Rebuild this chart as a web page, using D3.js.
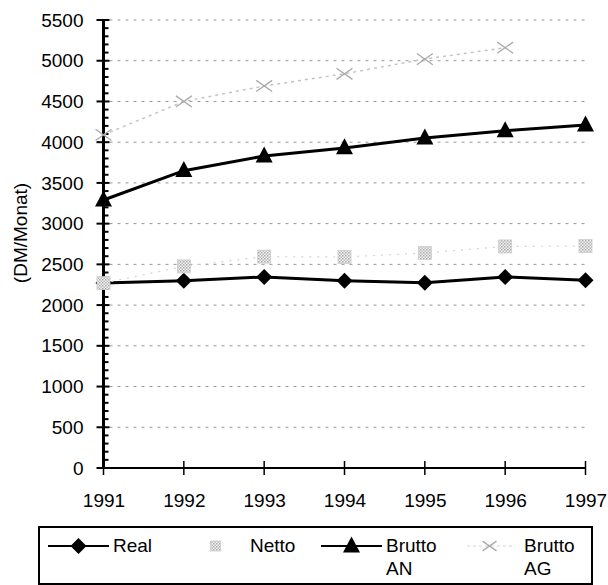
<!DOCTYPE html>
<html>
<head>
<meta charset="utf-8">
<script src="https://cdn.jsdelivr.net/npm/d3@7/dist/d3.min.js"></script>
<style>
  html, body { margin: 0; padding: 0; background: #fff; }
  svg { display: block; font-family: "Liberation Sans", Arial, Helvetica, sans-serif; }
</style>
</head>
<body>
<svg id="chart" width="608" height="585"></svg>
<script>
// Monthly earnings per employee, 1991–1997 (DM/Monat)
const years = ["1991", "1992", "1993", "1994", "1995", "1996", "1997"];
const real = [2270, 2300, 2345, 2300, 2275, 2345, 2305];
const netto = [2270, 2475, 2595, 2590, 2640, 2720, 2725];
const bruttoAN = [3290, 3650, 3830, 3930, 4050, 4140, 4210];
const bruttoAG = [4090, 4500, 4690, 4840, 5020, 5160, null];
const yTicks = [0, 500, 1000, 1500, 2000, 2500, 3000, 3500, 4000, 4500, 5000, 5500];
const yTitle = "(DM/Monat)";
const legendLabels = [["Real"], ["Netto"], ["Brutto", "AN"], ["Brutto", "AG"]];

const svg = d3.select("#chart");
const plotL = 103.5, plotR = 585.5, plotT = 20, plotB = 468;

const x = d3.scalePoint().domain(years).range([plotL, plotR]);
const y = d3.scaleLinear().domain([0, 5500]).range([plotB, plotT]);

// dithered fill used for the Netto markers
const defs = svg.append("defs");
const pat = defs.append("pattern").attr("id", "hatch")
  .attr("width", 3).attr("height", 3).attr("patternUnits", "userSpaceOnUse");
pat.append("rect").attr("width", 3).attr("height", 3).attr("fill", "#f2f2f2");
pat.append("rect").attr("width", 1.5).attr("height", 1.5).attr("fill", "#aaa");
pat.append("rect").attr("x", 1.5).attr("y", 1.5).attr("width", 1.5).attr("height", 1.5).attr("fill", "#bbb");

// horizontal dashed gridlines
svg.append("g").selectAll("line")
  .data(yTicks.filter(d => d > 0))
  .join("line")
  .attr("x1", plotL + 6).attr("x2", plotR)
  .attr("y1", d => y(d)).attr("y2", d => y(d))
  .attr("stroke", "#999").attr("stroke-width", 1)
  .attr("stroke-dasharray", "3,5");

// y axis with major and minor ticks
const yAxis = svg.append("g").attr("transform", `translate(${plotL},0)`)
  .call(d3.axisLeft(y).tickValues(yTicks).tickSize(0).tickPadding(20).tickFormat(d3.format("d")));
yAxis.select(".domain").remove();
yAxis.selectAll("text").attr("font-size", 19).attr("fill", "#000")
  .attr("font-family", "'Liberation Sans', Arial, sans-serif");

svg.append("g").selectAll("line")
  .data(d3.range(0, 5501, 100).filter(d => d % 500 !== 0))
  .join("line")
  .attr("x1", plotL).attr("x2", plotL + 5)
  .attr("y1", d => y(d)).attr("y2", d => y(d))
  .attr("stroke", "#000").attr("stroke-width", 2);
svg.append("g").selectAll("line")
  .data(yTicks)
  .join("line")
  .attr("x1", plotL - 7).attr("x2", plotL + 6)
  .attr("y1", d => y(d)).attr("y2", d => y(d))
  .attr("stroke", "#000").attr("stroke-width", 2);
svg.append("line")
  .attr("x1", plotL).attr("x2", plotL)
  .attr("y1", y(5500)).attr("y2", y(0))
  .attr("stroke", "#000").attr("stroke-width", 3);

// x axis
const xAxis = svg.append("g").attr("transform", `translate(0,${plotB})`)
  .call(d3.axisBottom(x).tickSize(0).tickPadding(26));
xAxis.select(".domain").remove();
xAxis.selectAll("text").attr("font-size", 19).attr("fill", "#000")
  .attr("font-family", "'Liberation Sans', Arial, sans-serif");
svg.append("g").selectAll("line")
  .data(years)
  .join("line")
  .attr("x1", d => x(d)).attr("x2", d => x(d))
  .attr("y1", plotB - 7).attr("y2", plotB + 7)
  .attr("stroke", "#000").attr("stroke-width", 1.5);
svg.append("line")
  .attr("x1", plotL).attr("x2", plotR)
  .attr("y1", plotB).attr("y2", plotB)
  .attr("stroke", "#000").attr("stroke-width", 2);

// y axis title
svg.append("text")
  .attr("transform", `translate(27,233) rotate(-90)`)
  .attr("text-anchor", "middle")
  .attr("font-size", 19)
  .text(yTitle);

// marker shapes
const diamond = (g, cx, cy, s) => g.append("path")
  .attr("d", `M${cx},${cy - s}L${cx + s},${cy}L${cx},${cy + s}L${cx - s},${cy}Z`)
  .attr("fill", "#000");
const triangle = (g, cx, cy, w, h) => g.append("path")
  .attr("d", `M${cx},${cy - h * 0.6}L${cx + w / 2},${cy + h * 0.4}L${cx - w / 2},${cy + h * 0.4}Z`)
  .attr("fill", "#000");
const square = (g, cx, cy, s) => g.append("rect")
  .attr("x", cx - s / 2).attr("y", cy - s / 2).attr("width", s).attr("height", s)
  .attr("fill", "url(#hatch)").attr("stroke", "#ccc").attr("stroke-width", 0.8);
const cross = (g, cx, cy, s) => g.append("path")
  .attr("d", `M${cx - s},${cy - s * 0.7}L${cx + s},${cy + s * 0.7}M${cx - s},${cy + s * 0.7}L${cx + s},${cy - s * 0.7}`)
  .attr("stroke", "#aaa").attr("stroke-width", 1.3).attr("fill", "none");

const line = d3.line()
  .defined(d => d[1] != null)
  .x(d => x(d[0])).y(d => y(d[1]));
const pairs = arr => years.map((yr, i) => [yr, arr[i]]);

// Brutto AG
const gAG = svg.append("g");
gAG.append("path").datum(pairs(bruttoAG)).attr("d", line)
  .attr("fill", "none").attr("stroke", "#c4c4c4").attr("stroke-width", 1.5)
  .attr("stroke-dasharray", "3,4");
pairs(bruttoAG).filter(d => d[1] != null).forEach(d => cross(gAG, x(d[0]), y(d[1]), 8));

// Brutto AN
const gAN = svg.append("g");
gAN.append("path").datum(pairs(bruttoAN)).attr("d", line)
  .attr("fill", "none").attr("stroke", "#000").attr("stroke-width", 3);
pairs(bruttoAN).forEach(d => triangle(gAN, x(d[0]), y(d[1]), 17, 16));

// Real
const gReal = svg.append("g");
gReal.append("path").datum(pairs(real)).attr("d", line)
  .attr("fill", "none").attr("stroke", "#000").attr("stroke-width", 3);
pairs(real).forEach(d => diamond(gReal, x(d[0]), y(d[1]), 8));

// Netto
const gNetto = svg.append("g");
gNetto.append("path").datum(pairs(netto)).attr("d", line)
  .attr("fill", "none").attr("stroke", "#d4d4d4").attr("stroke-width", 1.2)
  .attr("stroke-dasharray", "2,6");
pairs(netto).forEach(d => square(gNetto, x(d[0]), y(d[1]), 13));

// legend
const lg = svg.append("g");
lg.append("rect").attr("x", 39).attr("y", 527).attr("width", 553).attr("height", 57)
  .attr("fill", "none").attr("stroke", "#000").attr("stroke-width", 2);
const legendX = [48, 185, 321, 459];
const ly = 546;
legendLabels.forEach((lab, i) => {
  const x0 = legendX[i], mid = x0 + 30.5;
  if (i === 0) {
    lg.append("line").attr("x1", x0).attr("x2", x0 + 61).attr("y1", ly).attr("y2", ly)
      .attr("stroke", "#000").attr("stroke-width", 2);
    diamond(lg, mid, ly, 8);
  } else if (i === 1) {
    square(lg, mid, ly, 10);
  } else if (i === 2) {
    lg.append("line").attr("x1", x0).attr("x2", x0 + 61).attr("y1", ly).attr("y2", ly)
      .attr("stroke", "#000").attr("stroke-width", 2);
    triangle(lg, mid, ly, 17, 16);
  } else {
    lg.append("line").attr("x1", x0 + 8).attr("x2", x0 + 53).attr("y1", ly).attr("y2", ly)
      .attr("stroke", "#d4d4d4").attr("stroke-width", 1.2).attr("stroke-dasharray", "3,3");
    cross(lg, mid, ly, 7);
  }
  const t = lg.append("text").attr("x", x0 + 65).attr("y", 552).attr("font-size", 19);
  lab.forEach((s, j) => t.append("tspan").attr("x", x0 + 65).attr("dy", j === 0 ? 0 : 23).text(s));
});
</script>
</body>
</html>
